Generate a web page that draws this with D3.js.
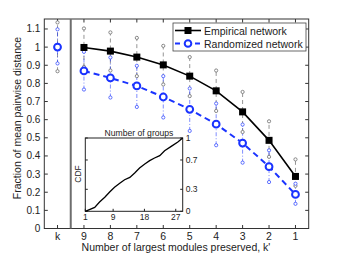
<!DOCTYPE html>
<html>
<head>
<meta charset="utf-8">
<script src="https://cdn.jsdelivr.net/npm/d3@7"></script>
<style>
  body { margin: 0; background: #fff; }
  svg text { font-family: "Liberation Sans", Arial, sans-serif; fill: #222; }
</style>
</head>
<body>
<div id="chart"></div>
<script>
"use strict";

// x categories, k first then modules kept
const labels = ["k", "9", "8", "7", "6", "5", "4", "3", "2", "1"];
const empirical = [null, 0.998, 0.978, 0.945, 0.902, 0.840, 0.759, 0.643, 0.486, 0.287];
const empHi = [1.136, 1.103, 1.081, 1.051, 1.007, 0.945, 0.871, 0.753, 0.591, 0.381];
const empLo = [0.867, 0.891, 0.871, 0.840, 0.794, 0.730, 0.648, 0.532, 0.395, 0.235];
const randomized = [1.0, 0.869, 0.830, 0.786, 0.725, 0.657, 0.575, 0.471, 0.341, 0.188];
const randHi = [1.098, 0.974, 0.943, 0.897, 0.840, 0.772, 0.689, 0.573, 0.431, 0.247];
const randLo = [0.910, 0.766, 0.722, 0.670, 0.612, 0.538, 0.459, 0.363, 0.256, 0.136];
const yTicks = [0, 0.1, 0.2, 0.3, 0.4, 0.5, 0.6, 0.7, 0.8, 0.9, 1, 1.1];

// inset: CDF of number of groups
const groups = [1, 3.7, 5.1, 6.6, 8, 9.4, 10.9, 12.3, 13.8, 15.2, 16.6, 18.1, 19.5, 20.9, 22.4, 23.8, 25.7, 27.6, 29];
const cdf = [0, 0.054, 0.127, 0.191, 0.263, 0.327, 0.382, 0.431, 0.463, 0.523, 0.591, 0.645, 0.691, 0.727, 0.759, 0.827, 0.886, 0.945, 1];
const insetXTicks = [1, 9, 18, 27];
const insetYTicks = [0, 0.3, 0.7, 1];

const W = 342, H = 258;
const BLUE = "#1a33ff", GRAY = "#7a7a7a";

const svg = d3.select("#chart").append("svg")
    .attr("width", W).attr("height", H);

const x = d3.scaleLinear().domain([-0.5, 9.5]).range([44.3, 308.7]);
const y = d3.scaleLinear().domain([0, 1.155]).range([228.5, 19]);
const idx = d3.range(labels.length);

// axes box
const plot = svg.append("g");
plot.append("rect")
    .attr("x", x(-0.5)).attr("y", y(1.155))
    .attr("width", x(9.5) - x(-0.5)).attr("height", y(0) - y(1.155))
    .attr("fill", "none").attr("stroke", "#333").attr("stroke-width", 1);

const tl = 3.5;
// y ticks left and right (inward)
yTicks.forEach(function(t) {
    plot.append("line").attr("x1", x(-0.5)).attr("x2", x(-0.5) + tl)
        .attr("y1", y(t)).attr("y2", y(t)).attr("stroke", "#333");
    plot.append("line").attr("x1", x(9.5)).attr("x2", x(9.5) - tl)
        .attr("y1", y(t)).attr("y2", y(t)).attr("stroke", "#333");
    plot.append("text").attr("x", x(-0.5) - 4).attr("y", y(t) + 3.5)
        .attr("text-anchor", "end").style("font-size", "10px")
        .text(d3.format("~g")(t));
});
// x ticks bottom and top (inward)
idx.forEach(function(i) {
    plot.append("line").attr("x1", x(i)).attr("x2", x(i))
        .attr("y1", y(0)).attr("y2", y(0) - tl).attr("stroke", "#333");
    plot.append("line").attr("x1", x(i)).attr("x2", x(i))
        .attr("y1", y(1.155)).attr("y2", y(1.155) + tl).attr("stroke", "#333");
    plot.append("text").attr("x", x(i)).attr("y", 240)
        .attr("text-anchor", "middle").style("font-size", "10.5px")
        .text(labels[i]);
});

// separator between k and the rest
plot.append("line").attr("x1", x(0.5)).attr("x2", x(0.5))
    .attr("y1", y(1.155)).attr("y2", y(0))
    .attr("stroke", "#6e6e6e").attr("stroke-width", 2);

// axis titles
svg.append("text").attr("x", 176).attr("y", 251)
    .attr("text-anchor", "middle").style("font-size", "10.5px")
    .text("Number of largest modules preserved, k'");
svg.append("text")
    .attr("transform", "translate(21," + 118 + ") rotate(-90)")
    .attr("text-anchor", "middle").style("font-size", "10.5px")
    .text("Fraction of mean pairwise distance");

// whiskers: gray for empirical spread, blue for randomized spread
const wk = plot.append("g");
idx.forEach(function(i) {
    wk.append("line").attr("x1", x(i)).attr("x2", x(i))
        .attr("y1", y(empLo[i])).attr("y2", y(empHi[i]))
        .attr("stroke", GRAY).attr("stroke-width", 0.8).attr("stroke-dasharray", "4,3");
    wk.append("line").attr("x1", x(i)).attr("x2", x(i))
        .attr("y1", y(randLo[i])).attr("y2", y(randHi[i]))
        .attr("stroke", BLUE).attr("stroke-opacity", 0.7).attr("stroke-width", 0.8)
        .attr("stroke-dasharray", "4,2,1,2");
    [empLo[i], empHi[i]].forEach(function(v) {
        wk.append("circle").attr("cx", x(i)).attr("cy", y(v)).attr("r", 1.6)
            .attr("fill", "#fff").attr("stroke", GRAY).attr("stroke-width", 0.9);
    });
    [randLo[i], randHi[i]].forEach(function(v) {
        wk.append("circle").attr("cx", x(i)).attr("cy", y(v)).attr("r", 1.6)
            .attr("fill", "#fff").attr("stroke", BLUE).attr("stroke-opacity", 0.75).attr("stroke-width", 0.9);
    });
});

// randomized mean line
const randLine = d3.line().x(function(i) { return x(i); }).y(function(i) { return y(randomized[i]); });
plot.append("path").datum(idx.slice(1))
    .attr("d", randLine).attr("fill", "none")
    .attr("stroke", BLUE).attr("stroke-width", 2).attr("stroke-dasharray", "6,4");
plot.selectAll("circle.rand").data(idx).enter().append("circle")
    .attr("class", "rand")
    .attr("cx", function(i) { return x(i); }).attr("cy", function(i) { return y(randomized[i]); })
    .attr("r", 3.4).attr("fill", "#fff").attr("stroke", BLUE).attr("stroke-width", 2);

// empirical mean line
const empIdx = idx.filter(function(i) { return empirical[i] !== null; });
const empLine = d3.line().x(function(i) { return x(i); }).y(function(i) { return y(empirical[i]); });
plot.append("path").datum(empIdx)
    .attr("d", empLine).attr("fill", "none")
    .attr("stroke", "#000").attr("stroke-width", 1.6);
plot.selectAll("rect.emp").data(empIdx).enter().append("rect")
    .attr("class", "emp")
    .attr("x", function(i) { return x(i) - 3.5; }).attr("y", function(i) { return y(empirical[i]) - 3.5; })
    .attr("width", 7).attr("height", 7).attr("fill", "#000");

// legend
const lg = svg.append("g");
lg.append("rect").attr("x", 173).attr("y", 23).attr("width", 133).attr("height", 28)
    .attr("fill", "#fff").attr("stroke", "#444").attr("stroke-width", 0.8);
lg.append("line").attr("x1", 175).attr("x2", 201).attr("y1", 30.5).attr("y2", 30.5)
    .attr("stroke", "#000").attr("stroke-width", 1.6);
lg.append("rect").attr("x", 184.5).attr("y", 27).attr("width", 7).attr("height", 7).attr("fill", "#000");
lg.append("text").attr("x", 204).attr("y", 34.5).style("font-size", "10.5px").text("Empirical network");
lg.append("line").attr("x1", 175).attr("x2", 201).attr("y1", 43.5).attr("y2", 43.5)
    .attr("stroke", BLUE).attr("stroke-width", 2).attr("stroke-dasharray", "5,5");
lg.append("circle").attr("cx", 188).attr("cy", 43.5).attr("r", 3.3)
    .attr("fill", "#fff").attr("stroke", BLUE).attr("stroke-width", 2);
lg.append("text").attr("x", 204).attr("y", 47.5).style("font-size", "10.5px").text("Randomized network");

// inset CDF
const ix = d3.scaleLinear().domain([1, 29]).range([85.3, 182.7]);
const iy = d3.scaleLinear().domain([0, 1]).range([211.3, 138]);
const ins = svg.append("g");
ins.append("rect").attr("x", ix(1)).attr("y", iy(1))
    .attr("width", ix(29) - ix(1)).attr("height", iy(0) - iy(1))
    .attr("fill", "#fff").attr("stroke", "#222").attr("stroke-width", 1);
insetYTicks.forEach(function(t) {
    ins.append("line").attr("x1", ix(1)).attr("x2", ix(1) + 2.5)
        .attr("y1", iy(t)).attr("y2", iy(t)).attr("stroke", "#222");
    ins.append("line").attr("x1", ix(29)).attr("x2", ix(29) - 2.5)
        .attr("y1", iy(t)).attr("y2", iy(t)).attr("stroke", "#222");
    ins.append("text").attr("x", ix(29) + 3).attr("y", iy(t) + 3)
        .style("font-size", "8.5px").text(t);
});
insetXTicks.forEach(function(t) {
    ins.append("line").attr("x1", ix(t)).attr("x2", ix(t))
        .attr("y1", iy(0)).attr("y2", iy(0) - 2.5).attr("stroke", "#222");
    ins.append("text").attr("x", ix(t)).attr("y", 220)
        .attr("text-anchor", "middle").style("font-size", "8.5px").text(t);
});
ins.append("text").attr("x", 139).attr("y", 136)
    .attr("text-anchor", "middle").style("font-size", "8.6px").text("Number of groups");
ins.append("text").attr("transform", "translate(" + 81 + "," + 174 + ") rotate(-90)")
    .attr("text-anchor", "middle").style("font-size", "8.5px").text("CDF");
const cdfLine = d3.line().x(function(d, i) { return ix(groups[i]); }).y(function(d) { return iy(d); });
ins.append("path").datum(cdf).attr("d", cdfLine)
    .attr("fill", "none").attr("stroke", "#000").attr("stroke-width", 1.3);
</script>
</body>
</html>
